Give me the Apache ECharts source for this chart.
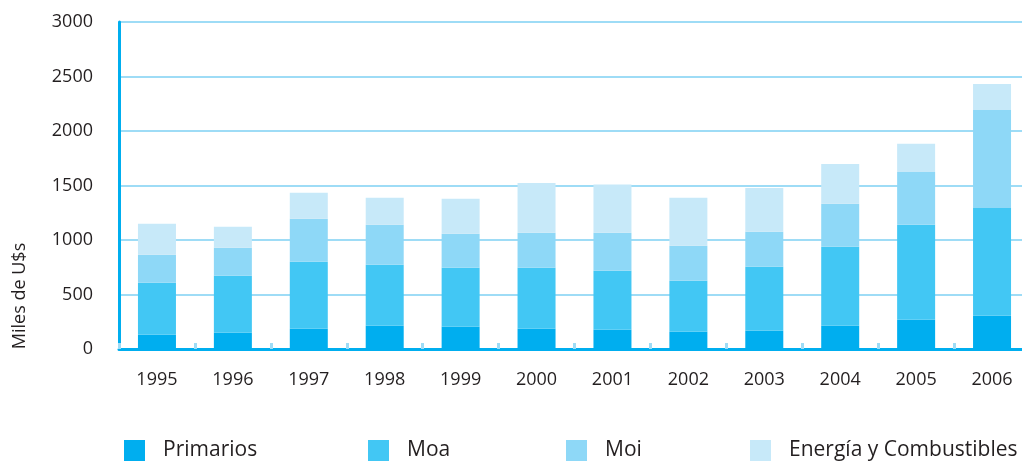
<!DOCTYPE html>
<html>
<head>
    <meta charset="utf-8"/>
    <title>Exportaciones por rubro</title>
    <script type="text/javascript" src="https://cdn.jsdelivr.net/npm/echarts@6/dist/echarts.min.js"></script>
    <style>
        html, body {
            margin: 0;
            padding: 0;
            background: #fff;
        }

        #chart {
            width: 1022px;
            height: 462px;
        }
    </style>
</head>
<body>
<div id="chart"></div>

<script type="text/javascript">
    // años
    let years = ['1995', '1996', '1997', '1998', '1999', '2000', '2001', '2002', '2003', '2004', '2005', '2006'];

    // miles de U$s por rubro
    let primarios = [131, 149, 186, 214, 204, 186, 177, 159, 168, 214, 268, 305];
    let moa = [477, 523, 614, 559, 541, 559, 541, 467, 587, 724, 871, 988];
    let moi = [256, 257, 394, 366, 312, 321, 348, 321, 320, 394, 486, 900];
    let energia = [284, 192, 239, 248, 321, 458, 444, 440, 403, 366, 257, 239];

    let seriesNames = ['Primarios', 'Moa', 'Moi', 'Energía y Combustibles'];
    let seriesData = [primarios, moa, moi, energia];
    let colors = ['#00aeef', '#42c7f4', '#8ed8f7', '#c7e9f9'];
    let legendLeft = [124, 368, 566, 750];

    let font = "'Open Sans', sans-serif";
    let textColor = '#231f20';

    let chart = echarts.init(document.getElementById('chart'));

    let series = seriesNames.map(function (name, i) {
        return {
            name: name,
            type: 'bar',
            stack: 'total',
            barWidth: 38,
            itemStyle: {color: colors[i]},
            data: seriesData[i]
        };
    });

    let legends = seriesNames.map(function (name, i) {
        return {
            data: [name],
            left: legendLeft[i],
            top: 440,
            itemWidth: 21,
            itemHeight: 21,
            itemGap: 0,
            padding: 0,
            icon: 'rect',
            textStyle: {
                fontFamily: font,
                fontSize: 21,
                color: textColor,
                padding: [0, 0, 0, 13]
            }
        };
    });

    chart.setOption({
        animation: false,
        color: colors,
        grid: {
            left: 119,
            width: 911,
            top: 22,
            bottom: 113,
            outerBoundsMode: 'none'
        },
        legend: legends,
        graphic: [{
            type: 'text',
            x: 20,
            y: 296,
            rotation: Math.PI / 2,
            style: {
                text: 'Miles de U$s',
                font: '18px ' + font,
                fill: textColor,
                textAlign: 'center',
                textVerticalAlign: 'middle'
            }
        }],
        xAxis: {
            type: 'category',
            data: years,
            axisLine: {
                lineStyle: {color: '#00aeef', width: 3}
            },
            axisTick: {
                show: true,
                inside: true,
                length: 6,
                lineStyle: {color: '#9edcf6', width: 3}
            },
            axisLabel: {
                margin: 22,
                fontFamily: font,
                fontSize: 18,
                color: textColor
            }
        },
        yAxis: {
            type: 'value',
            min: 0,
            max: 3000,
            interval: 500,
            axisLine: {
                show: true,
                lineStyle: {color: '#00aeef', width: 3}
            },
            axisTick: {show: false},
            axisLabel: {
                margin: 26,
                fontFamily: font,
                fontSize: 18,
                color: textColor,
                formatter: function (v) {
                    return String(v);
                }
            },
            splitLine: {
                lineStyle: {color: '#9edcf6', width: 2}
            }
        },
        series: series
    });
</script>
</body>
</html>
